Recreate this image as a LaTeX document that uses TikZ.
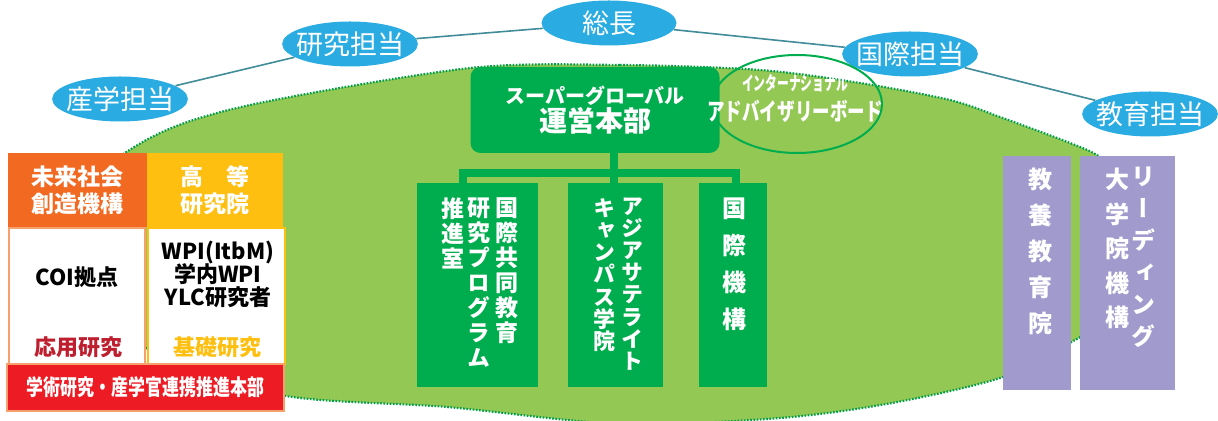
\documentclass[tikz,border=0pt]{standalone}
\usepackage{fontspec}
\usepackage{graphicx}
\setmainfont{Noto Sans CJK JP}
\newfontfamily\tatefont[RawFeature=+vert]{Noto Sans CJK JP}
\usetikzlibrary{shapes.geometric,positioning}
\lineskiplimit=-20pt

\definecolor{fieldgreen}{RGB}{148,200,84}
\definecolor{dotgreen}{RGB}{0,158,74}
\definecolor{unitgreen}{RGB}{0,173,78}
\definecolor{chiefblue}{RGB}{42,172,226}
\definecolor{linkteal}{RGB}{64,140,152}
\definecolor{miraiorange}{RGB}{242,106,34}
\definecolor{kotoyellow}{RGB}{254,191,16}
\definecolor{honbured}{RGB}{237,28,36}
\definecolor{oyored}{RGB}{190,30,45}
\definecolor{edgeorange}{RGB}{246,160,110}
\definecolor{sidepurple}{RGB}{160,155,204}

\tikzset{
    campus/.style={fill=fieldgreen, draw=dotgreen, line width=1.1pt,
        dash pattern=on 0.8pt off 0.8pt},
    chief/.style={ellipse, fill=chiefblue, text=white, inner xsep=-3pt, inner ysep=1pt,
        minimum width=67.5pt, minimum height=22.5pt, font=\fontsize{13.5}{16}\selectfont},
    chieflink/.style={draw=linkteal, line width=0.8pt},
    unitbox/.style={fill=unitgreen, inner sep=0pt, minimum height=102pt},
    sidebox/.style={fill=sidepurple, inner sep=0pt, minimum height=117pt},
    trunk/.style={draw=unitgreen, line width=4pt},
    tate/.style 2 args={text=white, align=center, anchor=north, inner sep=0pt,
        font=\tatefont\bfseries\fontsize{#1}{#2}\selectfont},
    headbox/.style={text=white, align=center, inner sep=0pt,
        minimum height=37pt, font=\bfseries\fontsize{11.5}{13.5}\selectfont},
    labtext/.style={inner sep=0pt, align=center, font=\bfseries\fontsize{11}{11.5}\selectfont}
}

\begin{document}
\begin{tikzpicture}[x=0.5pt, y=-0.5pt]
    \useasboundingbox (0,0) rectangle (1218,421);

    \draw[campus] plot[smooth cycle] coordinates {(470,68) (620,65) (760,70) (860,83) (950,100)
        (1000,117) (1070,143) (1100,157) (1145,192) (1172,240) (1160,290) (1075,340) (1003,377)
        (892,403) (780,418) (620,424) (447,407) (280,395) (150,350) (60,280) (70,200) (150,138) (250,105)};

    \node[chief] (sangaku) at (120,99) {産学担当};
    \node[chief] (kenkyu) at (350,44) {研究担当};
    \node[chief] (socho) at (609,23) {総長};
    \node[chief] (kokusaitanto) at (910,54) {国際担当};
    \node[chief] (kyoiku) at (1150,114) {教育担当};
    \draw[chieflink] (sangaku) -- (kenkyu) -- (socho) -- (kokusaitanto) -- (kyoiku);

    \node[ellipse, draw=unitgreen, line width=1pt, minimum width=85pt, minimum height=49pt] (board) at (797,104) {};

    \node[unitbox, minimum width=60.5pt] (prog) at (477.5,285) {};
    \node[unitbox, minimum width=47.5pt] (asia) at (615.5,285) {};
    \node[unitbox, minimum width=34pt] (kokusai) at (733,285) {};

    \coordinate (forkL) at (463,173);
    \coordinate (forkM) at (614,173);
    \coordinate (forkR) at (736,173);
    \draw[trunk] (forkL |- prog.north) -- (forkL) -- (forkR) -- (forkR |- kokusai.north);
    \draw[trunk] (forkM |- asia.north) -- (forkM);

    \node[fill=unitgreen, rounded corners=5pt, minimum width=124.5pt, minimum height=43pt,
        text=white, align=center, inner sep=0pt, font=\bfseries] (hq) at (595,110)
        {{\fontsize{10}{12}\selectfont スーパーグローバル}\\[2pt]{\fontsize{14}{16}\selectfont 運営本部}};
    \draw[trunk] (forkM |- hq.south) -- (forkM);

    \node[text=white, inner sep=0pt, font=\bfseries\fontsize{9.5}{10}\selectfont] (boardtop) at (795,83)
        {\scalebox{0.62}[1]{インターナショナル}};
    \node[text=white, inner sep=0pt, font=\bfseries\fontsize{12}{13}\selectfont] (boardbottom) at (795,111)
        {\scalebox{0.73}[1]{アドバイザリーボード}};

    \node[tate={11.5}{12.5}] (prog1) at (507,197) {国\\際\\共\\同\\教\\育};
    \node[tate={11.5}{12.5}] (prog2) at (479,197) {研\\究\\プ\\ロ\\グ\\ラ\\ム};
    \node[tate={11.5}{12.5}] (prog3) at (453,197) {推\\進\\室};
    \node[tate={11}{11.1}] (asia1) at (632,197) {ア\\ジ\\ア\\サ\\テ\\ラ\\イ\\ト};
    \node[tate={11}{11.1}] (asia2) at (604,198) {キ\\ャ\\ン\\パ\\ス\\学\\院};
    \node[tate={12}{18.5}] (kokusai1) at (734,197) {国\\際\\機\\構};

    \node[headbox, fill=miraiorange, minimum width=69.5pt] (mirai) at (77.5,190) {未来社会\\創造機構};
    \node[headbox, fill=kotoyellow, minimum width=68pt] (koto) at (215,190) {高　等\\研究院};
    \node[draw=edgeorange, fill=white, line width=0.6pt, minimum width=68pt, minimum height=68pt] (coi) at (77,296) {};
    \node[draw=kotoyellow, fill=white, line width=0.6pt, minimum width=68.5pt, minimum height=68pt] (wpi) at (216.5,296) {};
    \node[labtext] (coitext) at (77,277) {COI拠点};
    \node[labtext, text=oyored] (oyo) at (78,347) {応用研究};
    \node[labtext] (wpitext) at (218,274) {WPI(ItbM)\\学内WPI\\YLC研究者};
    \node[labtext, text=kotoyellow] (kiso) at (217.5,347) {基礎研究};
    \node[fill=honbured, draw=edgeorange, line width=0.7pt, minimum width=138.5pt, minimum height=23.5pt,
        text=white, inner sep=0pt, font=\bfseries\fontsize{11}{12}\selectfont] (honbu) at (145.5,387.5)
        {\scalebox{0.77}[1]{学術研究・産学官連携推進本部}};

    \node[sidebox, minimum width=34pt] (kyoyo) at (1037,273) {};
    \node[tate={12}{18}] (kyoyo1) at (1040,168) {教\\養\\教\\育\\院};
    \node[sidebox, minimum width=47.5pt] (leading) at (1127.5,273) {};
    \node[tate={12}{16}] (leading1) at (1143,167) {リ\\ー\\デ\\ィ\\ン\\グ};
    \node[tate={12}{17.2}] (leading2) at (1117,168) {大\\学\\院\\機\\構};
\end{tikzpicture}
\end{document}
